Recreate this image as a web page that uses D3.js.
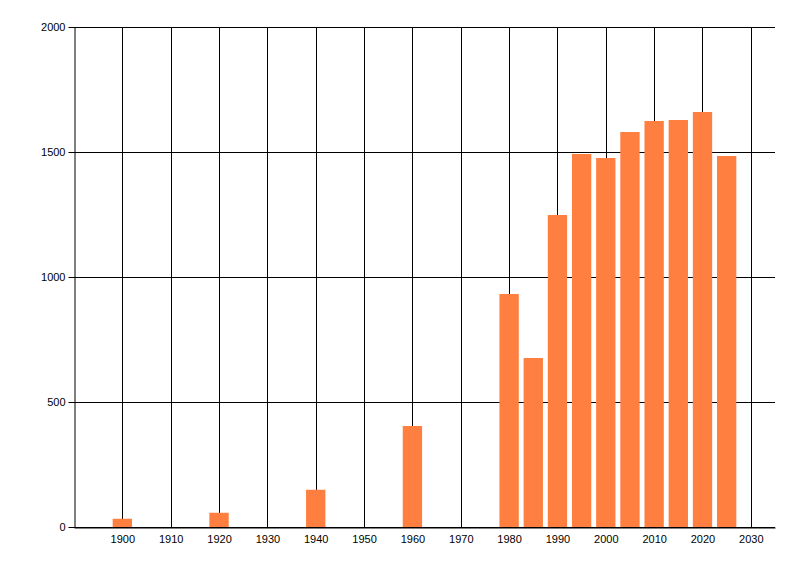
<!DOCTYPE html>
<html>
<head>
<meta charset="utf-8">
<script src="https://cdn.jsdelivr.net/npm/d3@7"></script>
<style>
  body { margin: 0; background: #fff; }
  text { font-family: "Liberation Sans", Arial, sans-serif; font-size: 11px; fill: #000; }
</style>
</head>
<body>
<div class="chart_box"></div>
<script>
// Data
const years = [1900, 1920, 1940, 1960, 1980, 1985, 1990, 1995, 2000, 2005, 2010, 2015, 2020, 2025];
const values = [33, 57, 149, 404, 932, 676, 1248, 1492, 1476, 1580, 1624, 1628, 1660, 1484];
const xTicks = [1900, 1910, 1920, 1930, 1940, 1950, 1960, 1970, 1980, 1990, 2000, 2010, 2020, 2030];
const yTicks = [0, 500, 1000, 1500, 2000];

const data = years.map((y, i) => ({ year: y, value: values[i] }));

const svg = d3
  .select(".chart_box")
  .append("svg")
  .attr("width", 800)
  .attr("height", 576);

// Scales
const xScale = d3.scaleLinear().domain([1890, 2035]).range([74, 775]);
const yScale = d3.scaleLinear().domain([0, 2000]).range([527, 27]);

// Grid lines
svg
  .append("g")
  .selectAll("line")
  .data(xTicks)
  .enter()
  .append("line")
  .attr("x1", (d) => Math.round(xScale(d)) + 0.5)
  .attr("x2", (d) => Math.round(xScale(d)) + 0.5)
  .attr("y1", yScale(2000))
  .attr("y2", yScale(0))
  .attr("stroke", "#000");

svg
  .append("g")
  .selectAll("line")
  .data(yTicks)
  .enter()
  .append("line")
  .attr("x1", xScale(1890))
  .attr("x2", xScale(2035))
  .attr("y1", (d) => Math.round(yScale(d)) + 0.5)
  .attr("y2", (d) => Math.round(yScale(d)) + 0.5)
  .attr("stroke", "#000");

// Bars
const barW = xScale(1904) - xScale(1900);
svg
  .selectAll("rect")
  .data(data)
  .enter()
  .append("rect")
  .attr("x", (d) => xScale(d.year) - barW / 2)
  .attr("y", (d) => yScale(d.value))
  .attr("width", barW)
  .attr("height", (d) => yScale(0) - yScale(d.value))
  .attr("fill", "#ff7f40");

// Axes
const xAxis = svg
  .append("g")
  .attr("transform", "translate(0," + (Math.round(yScale(0)) + 0.5) + ")")
  .call(d3.axisBottom(xScale).tickValues(xTicks).tickFormat(d3.format("d")).tickSize(0).tickPadding(8));
xAxis.select(".domain").attr("stroke", "#000");
xAxis.selectAll("text").style("font-size", "11px").style("font-family", "Liberation Sans, Arial, sans-serif");

const yAxis = svg
  .append("g")
  .attr("transform", "translate(" + (Math.round(xScale(1890)) + 0.5) + ",0)")
  .call(d3.axisLeft(yScale).tickValues(yTicks).tickFormat(d3.format("d")).tickSize(6).tickSizeOuter(0).tickPadding(3));
yAxis.select(".domain").attr("stroke", "#000");
yAxis.selectAll(".tick line").attr("stroke", "#000");
yAxis.selectAll("text").style("font-size", "11px").style("font-family", "Liberation Sans, Arial, sans-serif");
</script>
</body>
</html>
